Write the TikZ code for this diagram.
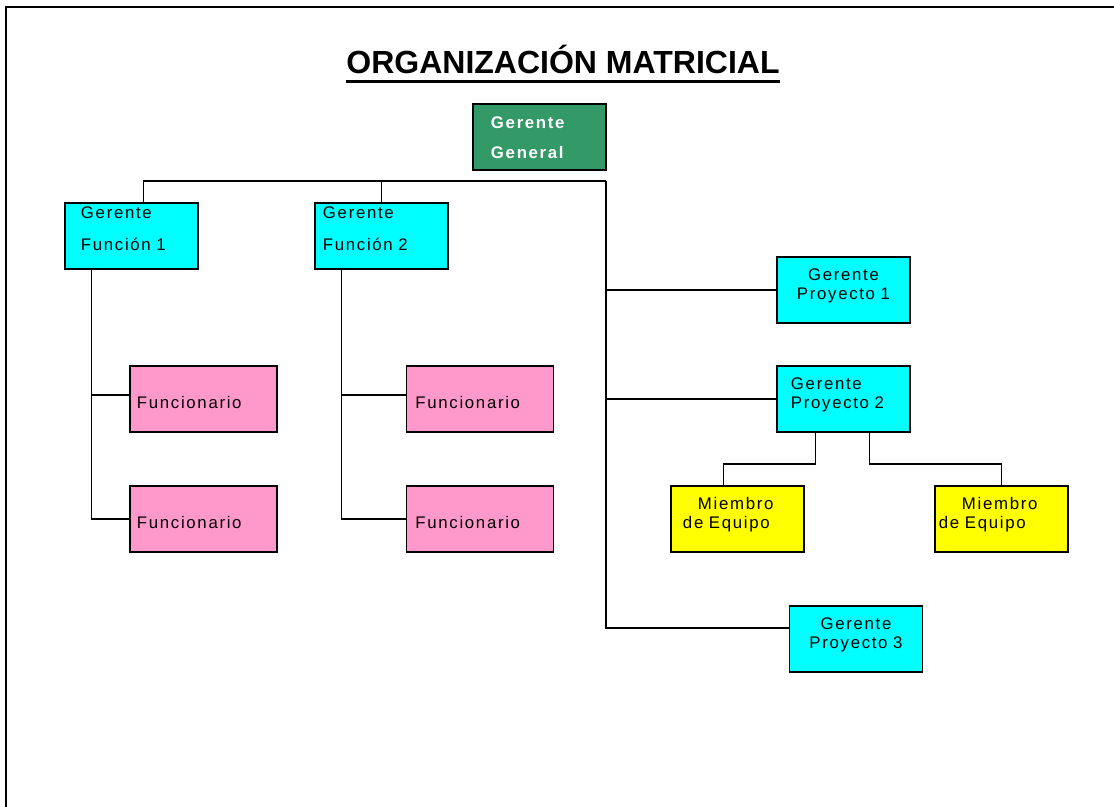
\documentclass[tikz,border=0pt]{standalone}
\usepackage{fontspec}
\setmainfont{Liberation Sans}
\newfontfamily\boxfont[LetterSpace=10,WordSpace=1.6]{Liberation Sans}
\usepackage{tikz}
\usetikzlibrary{positioning}
\definecolor{cCyan}{RGB}{0,255,255}
\definecolor{cPink}{RGB}{255,153,204}
\definecolor{cYellow}{RGB}{255,255,0}
\definecolor{cGreen}{RGB}{51,153,102}
\tikzset{
  basebox/.style={rectangle,draw=black,line width=1.3pt,inner xsep=0pt,
                  inner ysep=0pt,outer sep=0pt,text width=3.325cm,
                  text height=0.6cm,text depth=1.05cm,
                  font=\boxfont\fontsize{0.42cm}{0.45cm}\selectfont},
  cyannode/.style={basebox,fill=cCyan},
  funcnode/.style={cyannode,align=left,text height=0.4cm,text depth=1.25cm,
                   font=\boxfont\fontsize{0.42cm}{0.775cm}\selectfont},
  pinknode/.style={basebox,fill=cPink,text width=3.675cm,align=left,
                   text height=1.05cm,text depth=0.6cm},
  yellownode/.style={basebox,fill=cYellow,align=left},
  greennode/.style={basebox,fill=cGreen,align=left,text=white,
                    text height=0.625cm,text depth=1.025cm,
                    font=\boxfont\bfseries\fontsize{0.42cm}{0.725cm}\selectfont},
  conn/.style={draw=black,line width=0.9pt},
  framelne/.style={draw=black,line width=1.4pt}
}

\begin{document}
\begin{tikzpicture}[x=0.025cm,y=-0.025cm]
  \useasboundingbox (0,0) rectangle (1114,807);
  \draw[framelne] (6,820) -- (6,7) -- (1125,7);

  % title
  \node[font=\fontsize{0.8cm}{0.9cm}\selectfont\bfseries,inner sep=0pt,
        anchor=base] (title) at (563,73.5) {ORGANIZACIÓN MATRICIAL};
  \draw[line width=0.075cm] ([yshift=-0.19cm]title.base west)
      -- ([yshift=-0.19cm]title.base east);

  % top and functions
  \node[greennode] (gg) at (539.5,137)
      {\hspace*{0.45cm}Gerente\\\hspace*{0.45cm}General};
  \node[funcnode] (fun1) at (131.5,236)
      {\hspace*{0.4cm}Gerente\\\hspace*{0.4cm}Función 1};
  \node[funcnode] (fun2) at (381.5,236)
      {\hspace*{0.2cm}Gerente\\\hspace*{0.2cm}Función 2};

  \node[pinknode] (funa1) at (203.5,399) {\hspace*{0.175cm}Funcionario};
  \node[pinknode] (funb1) at (203.5,519) {\hspace*{0.175cm}Funcionario};
  \node[pinknode] (funa2) at (480,399) {\hspace*{0.225cm}Funcionario};
  \node[pinknode] (funb2) at (480,519) {\hspace*{0.225cm}Funcionario};

  % projects
  \node[cyannode,align=center] (gp1) at (843.5,290) {Gerente\\Proyecto 1};
  \node[cyannode,align=left] (gp2) at (843.5,399)
      {\hspace*{0.35cm}Gerente\\\hspace*{0.35cm}Proyecto 2};
  \node[cyannode,align=center] (gp3) at (856,639) {Gerente\\Proyecto 3};

  \node[yellownode] (mem1) at (737.5,519)
      {\hspace*{0.675cm}Miembro\\\hspace*{0.3cm}de Equipo};
  \node[yellownode] (mem2) at (1001.5,519)
      {\hspace*{0.675cm}Miembro\\\hspace*{0.1cm}de Equipo};

  % connectors
  \coordinate (bus) at (606,181);
  \draw[conn] ([xshift=0.3cm]fun1.north) |- (bus);
  \draw[conn] (fun2.north) -- (fun2.north |- bus);
  \draw[conn] (bus) |- ([yshift=0.275cm]gp3.west);
  \draw[conn] (bus |- gp1.west) -- (gp1.west);
  \draw[conn] (bus |- gp2.west) -- (gp2.west);

  \draw[conn] ([yshift=0.1cm]funa1.west) -| ([xshift=-1cm]fun1.south);
  \draw[conn] (funb1.west) -| ([xshift=-1cm]fun1.south);
  \draw[conn] ([yshift=0.1cm]funa2.west) -| ([xshift=-1cm]fun2.south);
  \draw[conn] (funb2.west) -| ([xshift=-1cm]fun2.south);

  \draw[conn] ([xshift=-0.7cm]gp2.south) -- ++(0,-0.8cm)
      -| ([xshift=-0.35cm]mem1.north);
  \draw[conn] ([xshift=0.65cm]gp2.south) -- ++(0,-0.8cm) -| (mem2.north);
\end{tikzpicture}
\end{document}
